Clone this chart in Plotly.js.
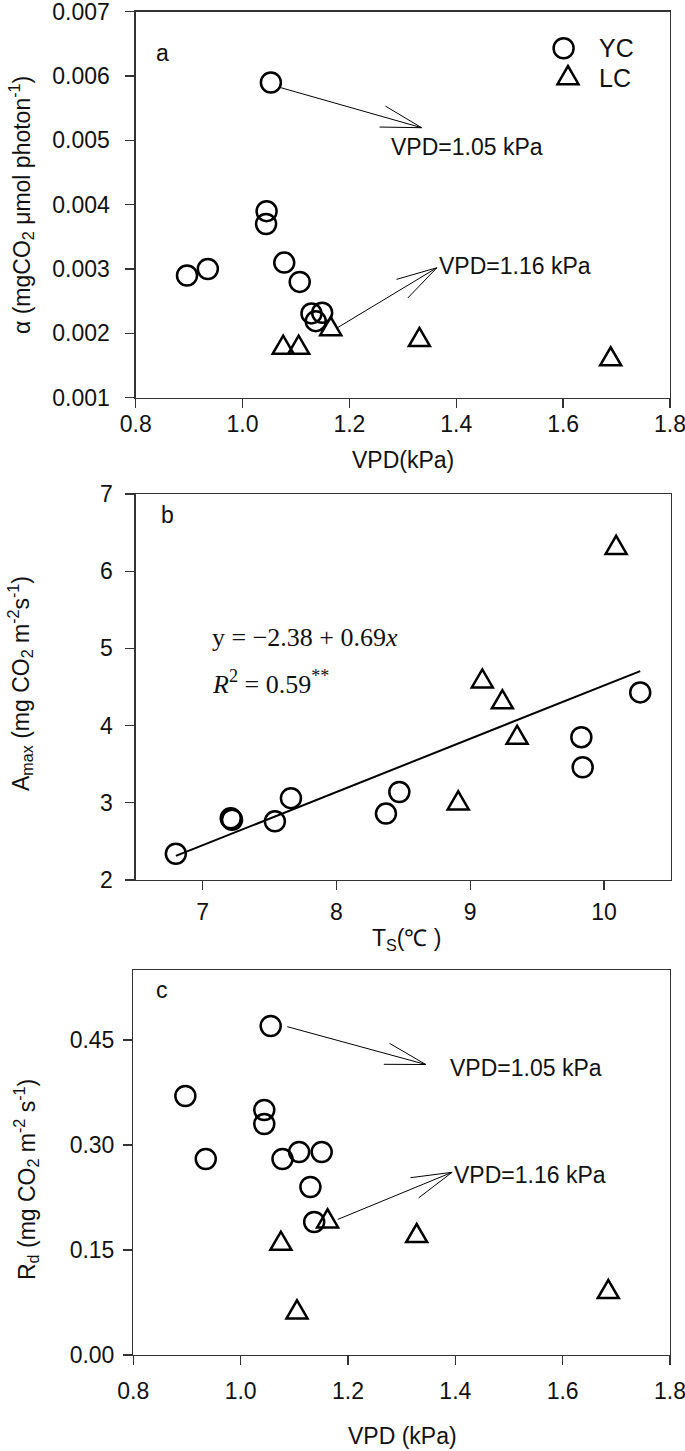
<!DOCTYPE html>
<html>
<head>
<meta charset="utf-8">
<script src="https://cdn.plot.ly/plotly-3.0.1.min.js"></script>
<style>html,body{margin:0;padding:0;background:#fff;}#chart{width:685px;height:1451px;}</style>
</head>
<body>
<div id="chart"></div>
<script>
// ---------------- data ----------------
// Panel a: alpha vs VPD
const aVpdYC = [0.896, 0.935, 1.044, 1.045, 1.053, 1.078, 1.107, 1.129, 1.137, 1.149];
const aAlphaYC = [0.0029, 0.0030, 0.0037, 0.0039, 0.0059, 0.0031, 0.0028, 0.00231, 0.00219, 0.00232];
const aVpdLC = [1.076, 1.105, 1.165, 1.331, 1.689];
const aAlphaLC = [0.00181, 0.00181, 0.0021, 0.00193, 0.00163];
// Panel b: Amax vs Ts
const bTsYC = [6.80, 7.21, 7.22, 7.54, 7.66, 8.37, 8.47, 9.83, 9.84, 10.27];
const bAmaxYC = [2.34, 2.80, 2.78, 2.76, 3.06, 2.86, 3.14, 3.85, 3.46, 4.43];
const bTsLC = [8.91, 9.09, 9.24, 9.35, 10.09];
const bAmaxLC = [3.02, 4.60, 4.33, 3.87, 6.33];
const regIntercept = -2.38;
const regSlope = 0.69;
// Panel c: Rd vs VPD
const cVpdYC = [0.897, 0.935, 1.044, 1.044, 1.056, 1.078, 1.109, 1.130, 1.137, 1.151];
const cRdYC = [0.37, 0.28, 0.33, 0.35, 0.47, 0.28, 0.29, 0.24, 0.19, 0.29];
const cVpdLC = [1.075, 1.105, 1.162, 1.328, 1.685];
const cRdLC = [0.162, 0.064, 0.194, 0.173, 0.093];
// tick labels
const vpdTicks = [0.8, 1.0, 1.2, 1.4, 1.6, 1.8];
const alphaTicks = [0.001, 0.002, 0.003, 0.004, 0.005, 0.006, 0.007];
const tsTicks = [7, 8, 9, 10];
const amaxTicks = [2, 3, 4, 5, 6, 7];
const rdTicks = [0.00, 0.15, 0.30, 0.45];
// annotation arrows (data coordinates: tail -> tip)
const aArrowTail = [[1.069, 0.005825], [1.1756, 0.002078]];
const aArrowTip = [[1.335, 0.005197], [1.3637, 0.00302]];
const cArrowTail = [[1.087, 0.469], [1.181, 0.1937]];
const cArrowTip = [[1.345, 0.415], [1.394, 0.261]];
const arrowLabels = ['VPD=1.05 kPa', 'VPD=1.16 kPa'];
const seriesNames = ['YC', 'LC'];

// ---------------- layout geometry ----------------
const W = 685, H = 1451;
const P = {
  a: {l: 135.7, r: 670, t: 11.7, b: 397.7, xr: [0.8, 1.8], yr: [0.001, 0.007], xa: 'x', ya: 'y'},
  b: {l: 135.7, r: 671, t: 494, b: 880, xr: [6.5, 10.5], yr: [2, 7], xa: 'x2', ya: 'y2'},
  c: {l: 133.3, r: 670, t: 970, b: 1355, xr: [0.8, 1.8], yr: [0, 0.55], xa: 'x3', ya: 'y3'}
};
const FONT = 'Liberation Sans, Arial, sans-serif';
const SERIF = 'Liberation Serif, Times New Roman, serif';
const INK = '#111';
const LINE = '#333';
function px(x) { return x / W; }
function py(y) { return 1 - y / H; }
function toPx(p, x, y) {
  return [p.l + (x - p.xr[0]) / (p.xr[1] - p.xr[0]) * (p.r - p.l),
          p.b - (y - p.yr[0]) / (p.yr[1] - p.yr[0]) * (p.b - p.t)];
}
function toData(p, X, Y) {
  return [p.xr[0] + (X - p.l) / (p.r - p.l) * (p.xr[1] - p.xr[0]),
          p.yr[0] + (p.b - Y) / (p.b - p.t) * (p.yr[1] - p.yr[0])];
}

function axis(p, isX, extra) {
  const o = {
    domain: isX ? [px(p.l), px(p.r)] : [py(p.b), py(p.t)],
    range: isX ? p.xr : p.yr,
    showline: true, linecolor: LINE, linewidth: 1.3, mirror: true,
    ticks: 'outside', ticklen: 9, tickwidth: 1.3, tickcolor: LINE,
    showgrid: false, zeroline: false, fixedrange: true,
    ticklabeloverflow: 'allow',
    tickfont: {family: FONT, size: 23, color: INK}
  };
  return Object.assign(o, extra);
}

const circ = {symbol: 'circle-open', size: 20, color: '#000', line: {width: 2.5}};
// triangles are drawn as equilateral pixel-sized shapes anchored at each data point;
// the LC trace itself keeps the data with invisible markers
const triHidden = {symbol: 'triangle-up', size: 18, color: 'rgba(0,0,0,0)'};
const TRI_PATH = 'M-10.5,-8.2 L10.5,-8.2 L0,9.9 Z';

const regX = [Math.min(...bTsYC, ...bTsLC), Math.max(...bTsYC, ...bTsLC)];
const regY = regX.map(v => regIntercept + regSlope * v);

const traces = [
  {x: aVpdYC, y: aAlphaYC, xaxis: 'x', yaxis: 'y', mode: 'markers', marker: circ, name: seriesNames[0]},
  {x: aVpdLC, y: aAlphaLC, xaxis: 'x', yaxis: 'y', mode: 'markers', marker: triHidden, name: seriesNames[1]},
  {x: regX, y: regY, xaxis: 'x2', yaxis: 'y2', mode: 'lines', line: {color: '#000', width: 2}},
  {x: bTsYC, y: bAmaxYC, xaxis: 'x2', yaxis: 'y2', mode: 'markers', marker: circ, name: seriesNames[0]},
  {x: bTsLC, y: bAmaxLC, xaxis: 'x2', yaxis: 'y2', mode: 'markers', marker: triHidden, name: seriesNames[1]},
  {x: cVpdYC, y: cRdYC, xaxis: 'x3', yaxis: 'y3', mode: 'markers', marker: circ, name: seriesNames[0]},
  {x: cVpdLC, y: cRdLC, xaxis: 'x3', yaxis: 'y3', mode: 'markers', marker: triHidden, name: seriesNames[1]},
  // legend circle on a hidden full-page pixel axis
  {x: [563.6], y: [48.3], xaxis: 'x4', yaxis: 'y4', mode: 'markers', marker: circ}
];

const shapes = [];
function addTriangles(p, xs, ys) {
  xs.forEach((x, i) => {
    shapes.push({type: 'path', xref: p.xa, yref: p.ya, xsizemode: 'pixel', ysizemode: 'pixel',
      xanchor: x, yanchor: ys[i], path: TRI_PATH, fillcolor: 'rgba(0,0,0,0)',
      line: {color: '#000', width: 2.5}});
  });
}
addTriangles(P.a, aVpdLC, aAlphaLC);
addTriangles(P.b, bTsLC, bAmaxLC);
addTriangles(P.c, cVpdLC, cRdLC);
// legend triangle
shapes.push({type: 'path', xref: 'paper', yref: 'paper', xsizemode: 'pixel', ysizemode: 'pixel',
  xanchor: px(568), yanchor: py(76), path: TRI_PATH, fillcolor: 'rgba(0,0,0,0)',
  line: {color: '#000', width: 2.5}});

// arrows with long open heads
function addArrow(p, tail, tip) {
  shapes.push({type: 'line', xref: p.xa, yref: p.ya, x0: tail[0], y0: tail[1], x1: tip[0], y1: tip[1],
               line: {color: '#000', width: 1}});
  const T = toPx(p, tail[0], tail[1]), S = toPx(p, tip[0], tip[1]);
  const dx = T[0] - S[0], dy = T[1] - S[1], len = Math.hypot(dx, dy);
  const ux = dx / len, uy = dy / len, L = 42, ang = 15 * Math.PI / 180;
  [ang, -ang].forEach(a => {
    const bx = S[0] + L * (ux * Math.cos(a) - uy * Math.sin(a));
    const by = S[1] + L * (ux * Math.sin(a) + uy * Math.cos(a));
    const d = toData(p, bx, by);
    shapes.push({type: 'line', xref: p.xa, yref: p.ya, x0: tip[0], y0: tip[1], x1: d[0], y1: d[1],
                 line: {color: '#000', width: 1}});
  });
}
aArrowTail.forEach((t, i) => addArrow(P.a, t, aArrowTip[i]));
cArrowTail.forEach((t, i) => addArrow(P.c, t, cArrowTip[i]));

function txt(text, X, Y, opts) {
  return Object.assign({text: text, xref: 'paper', yref: 'paper', x: px(X), y: py(Y),
    xanchor: 'center', yanchor: 'middle', showarrow: false,
    font: {family: FONT, size: 23, color: INK}}, opts || {});
}
function dtxt(p, text, x, y, opts) {
  return Object.assign({text: text, xref: p.xa, yref: p.ya, x: x, y: y, xanchor: 'left', yanchor: 'middle',
    showarrow: false, font: {family: FONT, size: 23, color: INK}}, opts || {});
}

const annotations = [
  // panel letters
  txt('a', 162.5, 53),
  txt('b', 167, 515),
  txt('c', 162, 990),
  // legend
  txt(seriesNames[0], 597, 48.3, {xanchor: 'left', font: {family: FONT, size: 25, color: INK}}),
  txt(seriesNames[1], 597, 78.5, {xanchor: 'left', font: {family: FONT, size: 25, color: INK}}),
  // arrow labels
  dtxt(P.a, arrowLabels[0], 1.274, 0.00489),
  dtxt(P.a, arrowLabels[1], 1.3637, 0.00304),
  dtxt(P.c, arrowLabels[0], 1.386, 0.41),
  dtxt(P.c, arrowLabels[1], 1.394, 0.2577),
  // regression text
  txt('y = \u22122.38 + 0.69<i>x</i>', 209.7, 638, {xanchor: 'left',
      font: {family: SERIF, size: 26, color: INK}}),
  txt('<i>R</i><sup>2</sup> = 0.59<sup>**</sup>', 209.7, 682, {xanchor: 'left',
      font: {family: SERIF, size: 26, color: INK}}),
  // axis titles
  txt('VPD(kPa)', 403, 460),
  txt('\u03b1 (mgCO<sub>2</sub> \u03bcmol photon<sup>-1</sup>)', 21, 205, {textangle: -90}),
  txt('T<sub>S</sub>(\u2103 )', 407, 940),
  txt('A<sub>max</sub> (mg CO<sub>2</sub> m<sup>-2</sup>s<sup>-1</sup>)', 20, 684, {textangle: -90}),
  txt('VPD (kPa)', 402, 1436),
  txt('R<sub>d</sub> (mg CO<sub>2</sub> m<sup>-2</sup> s<sup>-1</sup>)', 26, 1180, {textangle: -90})
];

const layout = {
  width: W, height: H, margin: {l: 0, r: 0, t: 0, b: 0},
  paper_bgcolor: '#fff', plot_bgcolor: 'rgba(0,0,0,0)', showlegend: false,
  xaxis: axis(P.a, true, {anchor: 'y', tickvals: vpdTicks, tickformat: '.1f', ticklabelstandoff: -4}),
  yaxis: axis(P.a, false, {anchor: 'x', tickvals: alphaTicks, tickformat: '.3f', ticklabelstandoff: 11}),
  xaxis2: axis(P.b, true, {anchor: 'y2', tickvals: tsTicks, ticklabelstandoff: 2}),
  yaxis2: axis(P.b, false, {anchor: 'x2', tickvals: amaxTicks, ticklabelstandoff: 8}),
  xaxis3: axis(P.c, true, {anchor: 'y3', tickvals: vpdTicks, tickformat: '.1f', ticklabelstandoff: 6}),
  yaxis3: axis(P.c, false, {anchor: 'x3', tickvals: rdTicks, tickformat: '.2f', ticklabelstandoff: 4}),
  xaxis4: {domain: [0, 1], range: [0, W], visible: false, fixedrange: true, anchor: 'y4'},
  yaxis4: {domain: [0, 1], range: [H, 0], visible: false, fixedrange: true, anchor: 'x4'},
  shapes: shapes,
  annotations: annotations
};

Plotly.newPlot('chart', traces, layout, {displayModeBar: false, staticPlot: true});
</script>
</body>
</html>
